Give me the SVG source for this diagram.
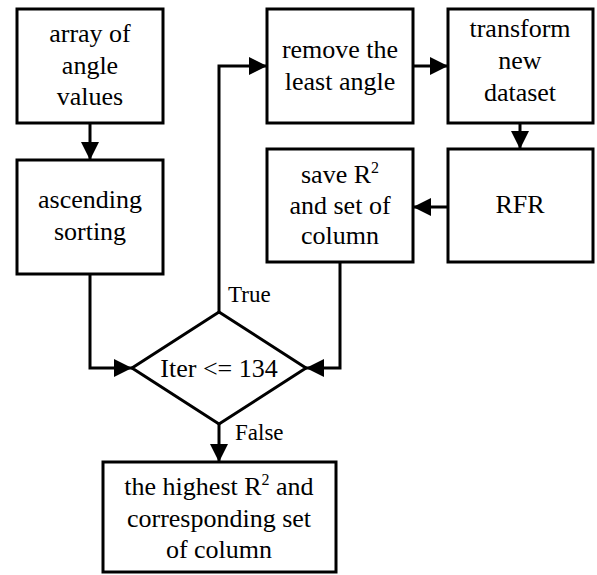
<svg xmlns="http://www.w3.org/2000/svg" width="597" height="575" viewBox="0 0 597 575">
<style>
.box{fill:#fff;stroke:#000;stroke-width:3}
.t{font-size:26px;fill:#000;text-anchor:middle}
.l{font-size:23px;fill:#000}
.c{fill:none;stroke:#000;stroke-width:3}
</style>
<defs>
<marker id="ah" markerUnits="userSpaceOnUse" markerWidth="18" markerHeight="18" refX="18" refY="9" orient="auto">
<path d="M0,0 L18,9 L0,18 z" fill="#000"/>
</marker>
</defs>
<rect width="597" height="575" fill="#fff"/>
<g font-family="'Liberation Serif', 'DejaVu Serif', serif">
<g id="connectors">
<path class="c" d="M90,123 V160" marker-end="url(#ah)"/>
<path class="c" d="M90,274 V368 H132" marker-end="url(#ah)"/>
<path class="c" d="M219,312 V66 H267" marker-end="url(#ah)"/>
<path class="c" d="M413,66 H448" marker-end="url(#ah)"/>
<path class="c" d="M520,123 V149" marker-end="url(#ah)"/>
<path class="c" d="M448,207 H413" marker-end="url(#ah)"/>
<path class="c" d="M340,262 V368 H306" marker-end="url(#ah)"/>
<path class="c" d="M219,424 V462" marker-end="url(#ah)"/>
<text class="l" x="228" y="302">True</text>
<text class="l" x="235" y="440">False</text>
</g>
<g id="n1">
<rect class="box" x="17" y="9" width="146" height="114"/>
<text class="t" x="90" y="42">array of</text>
<text class="t" x="90" y="74">angle</text>
<text class="t" x="90" y="105">values</text>
</g>
<g id="n2">
<rect class="box" x="17" y="160" width="146" height="114"/>
<text class="t" x="90" y="208">ascending</text>
<text class="t" x="90" y="240">sorting</text>
</g>
<g id="n3">
<rect class="box" x="267" y="9" width="146" height="114"/>
<text class="t" x="340" y="58">remove the</text>
<text class="t" x="340" y="90">least angle</text>
</g>
<g id="n4">
<rect class="box" x="448" y="9" width="145" height="114"/>
<text class="t" x="520" y="37">transform</text>
<text class="t" x="520" y="69">new</text>
<text class="t" x="520" y="101">dataset</text>
</g>
<g id="n5">
<rect class="box" x="267" y="149" width="146" height="113"/>
<text class="t" x="340" y="183">save R<tspan font-size="16" dy="-10">2</tspan></text>
<text class="t" x="340" y="214">and set of</text>
<text class="t" x="340" y="244">column</text>
</g>
<g id="n6">
<rect class="box" x="448" y="149" width="145" height="113"/>
<text class="t" x="520" y="213">RFR</text>
</g>
<g id="n7">
<path class="box" d="M219,312 L306,368 L219,424 L132,368 Z"/>
<text class="t" x="219" y="377">Iter &lt;= 134</text>
</g>
<g id="n8">
<rect class="box" x="103" y="462" width="233" height="110"/>
<text class="t" x="219" y="495">the highest R<tspan font-size="16" dy="-10">2</tspan><tspan dy="10"> and</tspan></text>
<text class="t" x="219" y="527">corresponding set</text>
<text class="t" x="219" y="558">of column</text>
</g>
</g>
</svg>
